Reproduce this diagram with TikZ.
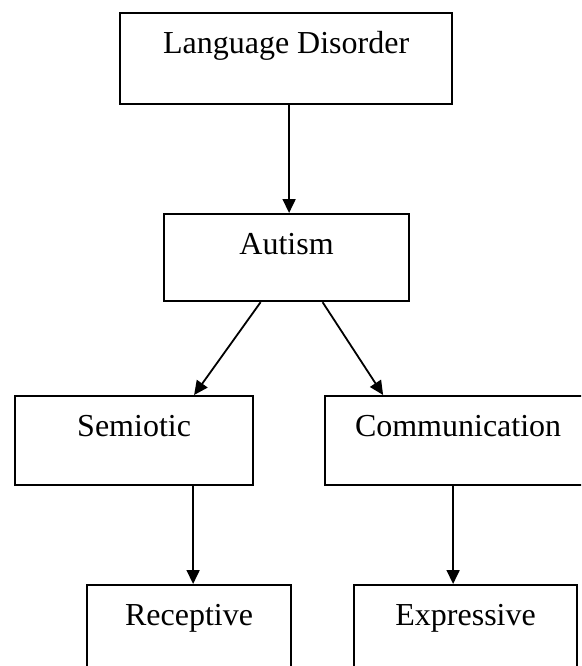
\documentclass[tikz,border=0pt]{standalone}
\usepackage{fontspec}
\setmainfont{Liberation Serif}
\usetikzlibrary{arrows.meta}
\begin{document}
\begin{tikzpicture}[x=1pt,y=-1pt,
  box/.style={draw=black,line width=2.2pt,inner sep=0pt,anchor=north west,
    text height=40pt,text depth=49pt,font=\fontsize{32}{38}\selectfont},
  arr/.style={line width=1.8pt,-{Triangle[length=14pt,width=13pt]}}]
\useasboundingbox (0,0) rectangle (581,666);
\clip (0,0) rectangle (581,666);
\fill[white] (0,0) rectangle (581,666);
\node[box,minimum width=332pt,text depth=51pt] (ld) at (119,12) {Language Disorder};
\node[box,minimum width=245pt,text depth=47pt] (aut) at (163,213) {Autism};
\node[box,minimum width=238pt] (sem) at (14,395) {Semiotic};
\node[box,minimum width=266pt] (com) at (324,395) {Communication};
\node[box,minimum width=204pt] (rec) at (86,584) {Receptive};
\node[box,minimum width=223pt] (exp) at (353,584) {Expressive};
\draw[arr] ([xshift=3pt]ld.south) -- ([xshift=2.5pt]aut.north);
\draw[arr] ([xshift=-26pt]aut.south) -- ([xshift=60pt]sem.north);
\draw[arr] ([xshift=36pt]aut.south) -- ([xshift=-75pt]com.north);
\draw[arr] ([xshift=59pt]sem.south) -- ([xshift=4pt]rec.north);
\draw[arr] ([xshift=-5pt]com.south) -- ([xshift=-12.5pt]exp.north);
\end{tikzpicture}
\end{document}
